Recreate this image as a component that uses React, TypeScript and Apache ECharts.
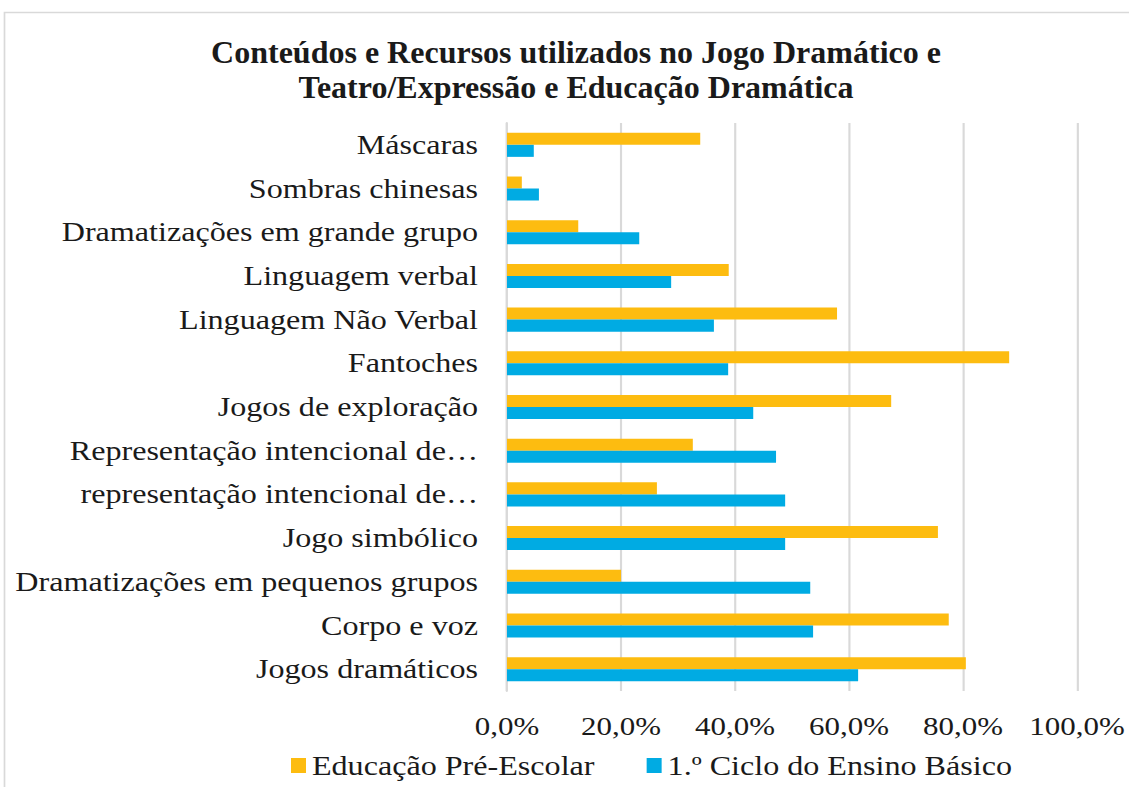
import React, { useEffect, useRef } from "react";
import * as echarts from "echarts";

const categories = [
  "Máscaras",
  "Sombras chinesas",
  "Dramatizações em grande grupo",
  "Linguagem verbal",
  "Linguagem Não Verbal",
  "Fantoches",
  "Jogos de exploração",
  "Representação intencional de…",
  "representação intencional de…",
  "Jogo simbólico",
  "Dramatizações em pequenos grupos",
  "Corpo e voz",
  "Jogos dramáticos",
];

const preEscolar = [33.9, 2.6, 12.5, 38.9, 57.9, 88.1, 67.4, 32.6, 26.3, 75.6, 20.0, 77.5, 80.5];
const primeiroCiclo = [4.7, 5.6, 23.2, 28.8, 36.3, 38.8, 43.2, 47.2, 48.8, 48.8, 53.2, 53.7, 61.6];

const seriesNames = ["Educação Pré-Escolar", "1.º Ciclo do Ensino Básico"];
const titleText = "Conteúdos e Recursos utilizados no Jogo Dramático e\nTeatro/Expressão e Educação Dramática";

const FONT = "'Liberation Serif', 'Times New Roman', serif";

// The reference's text is horizontally stretched; draw in a narrower space and stretch it.
const PAGE_W = 1129;
const PAGE_H = 787;
const CHART_W = 949;
const S = PAGE_W / CHART_W;
const X = (px: number) => px / S;

export default function App() {
  const ref = useRef<HTMLDivElement>(null);
  useEffect(() => {
    if (!ref.current) return;
    const chart = echarts.init(ref.current, undefined, { renderer: "svg" });
    chart.setOption({
      animation: false,
      backgroundColor: "#ffffff",
      graphic: [
        {
          type: "rect",
          shape: { x: X(4.5), y: 12.5, width: CHART_W + 50, height: PAGE_H + 50 },
          style: { fill: "none", stroke: "#d9d9d9", lineWidth: 1.4 },
          silent: true,
        },
        {
          type: "text",
          x: X(576),
          y: 69.5,
          scaleX: 1 / S,
          silent: true,
          style: {
            text: titleText,
            fontFamily: FONT,
            fontWeight: "bold",
            fontSize: 32,
            lineHeight: 35,
            fill: "#1a1a1a",
            textAlign: "center",
            textVerticalAlign: "middle",
          },
        },
      ],
      legend: {
        left: X(291) - 5,
        top: 747,
        itemWidth: X(15),
        itemHeight: 15,
        itemGap: X(52),
        icon: "rect",
        textStyle: { fontFamily: FONT, fontSize: 27, color: "#1a1a1a" },
        data: seriesNames,
      },
      grid: { left: X(507), right: X(PAGE_W - 1077), top: 123, bottom: 96, containLabel: false },
      xAxis: {
        type: "value",
        min: 0,
        max: 100,
        interval: 20,
        axisLine: { show: false },
        axisTick: { show: false },
        splitLine: { show: true, lineStyle: { color: "#d9d9d9", width: 1.8 } },
        axisLabel: {
          fontFamily: FONT,
          fontSize: 26,
          color: "#1a1a1a",
          margin: 22,
          formatter: (v: number) => v.toFixed(1).replace(".", ",") + "%",
        },
      },
      yAxis: {
        type: "category",
        data: categories,
        inverse: true,
        axisLine: { show: true, lineStyle: { color: "#d9d9d9", width: 1.8 } },
        axisTick: { show: false },
        axisLabel: { fontFamily: FONT, fontSize: 27, color: "#1a1a1a", margin: X(29) },
      },
      series: [
        {
          name: seriesNames[0],
          type: "bar",
          data: preEscolar,
          itemStyle: { color: "#FDBC10" },
          barGap: "0%",
          barCategoryGap: "45%",
        },
        {
          name: seriesNames[1],
          type: "bar",
          data: primeiroCiclo,
          itemStyle: { color: "#00ABE3" },
          barGap: "0%",
          barCategoryGap: "45%",
        },
      ],
    });
    return () => chart.dispose();
  }, []);
  return (
    <div style={{ position: "fixed", left: 0, top: 0, width: PAGE_W, height: PAGE_H, overflow: "hidden", background: "#fff" }}>
      <div
        ref={ref}
        style={{
          width: CHART_W,
          height: PAGE_H,
          transform: `scaleX(${S})`,
          transformOrigin: "0 0",
        }}
      />
    </div>
  );
}
